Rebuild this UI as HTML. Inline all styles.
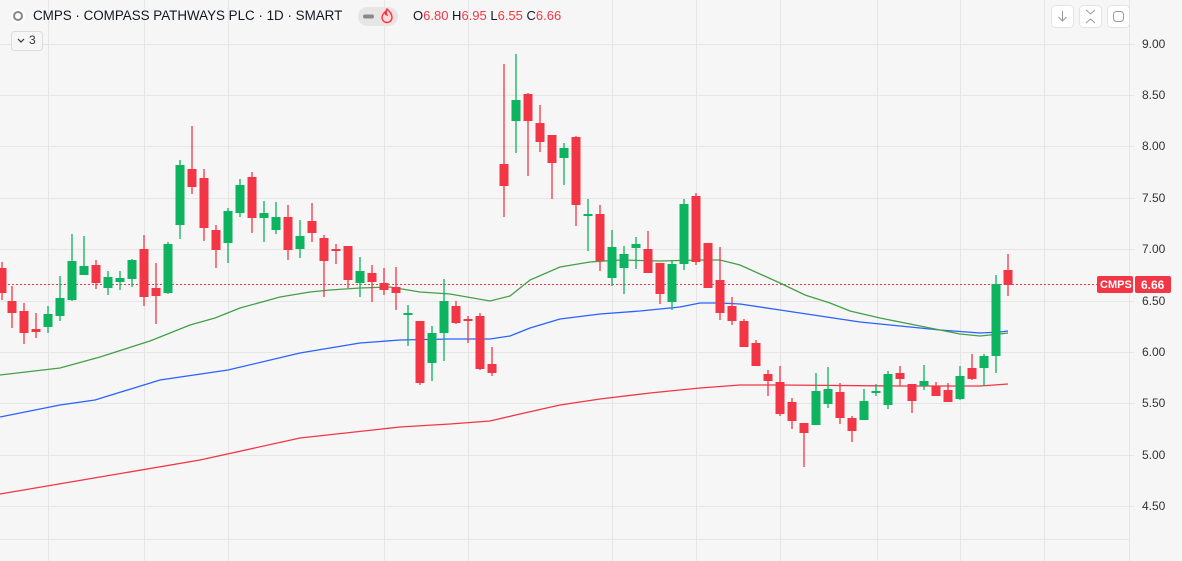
<!DOCTYPE html>
<html><head><meta charset="utf-8"><style>
html,body{margin:0;padding:0;background:#f6f6f6;width:1182px;height:561px;overflow:hidden;font-family:"Liberation Sans",sans-serif}
.t{position:absolute;white-space:nowrap}
</style></head><body>
<svg width="1182" height="561" style="position:absolute;left:0;top:0">
<rect width="1182" height="561" fill="#f6f6f6"/>
<g stroke="#e6e6e6" stroke-width="1">
<path d="M48.5 0V561M144.5 0V561M228.5 0V561M384.5 0V561M468.5 0V561M612.5 0V561M696.5 0V561M780.5 0V561M877.5 0V561M960.5 0V561M1044.5 0V561"/>
<path d="M0 44.5H1134M0 95.5H1134M0 146.5H1134M0 198.5H1134M0 249.5H1134M0 301.5H1134M0 352.5H1134M0 403.5H1134M0 455.5H1134M0 506.5H1134M0 539.5H1129"/>
<path d="M1129.5 0V561"/>
</g>
<path d="M0 284.5H1097" stroke="#f23645" stroke-width="1" stroke-dasharray="2,2"/>
<g fill="none" stroke-width="1.3">
<polyline stroke="#f23645" points="0,494 100,477 200,460 300,438 400,427 450,424 490,421 520,414 560,405 600,399 650,393 700,388 740,385 780,385 900,386 980,386 1008,384"/>
<polyline stroke="#2962ff" points="0,417 60,405 95,400 160,380 228,370 300,353 360,343 400,340 450,339 490,339 510,336 530,328 560,319 600,314 640,311 680,307 700,303 720,303 740,304 780,310 820,316 860,322 900,326 940,330 980,333 1000,332 1008,331"/>
<polyline stroke="#43a047" points="0,375 60,368 100,357 150,341 170,333 190,325 215,318 240,308 280,297 310,292 330,290 360,288 390,287 420,292 450,294 490,301 510,296 530,280 560,267 590,262 620,260 660,261 700,260 720,260 740,265 780,283 805,295 830,303 850,311 880,318 910,324 940,330 960,334 980,336 1000,334 1008,333"/>
</g>
<g fill="#f23645" stroke="#f23645" stroke-width="1.3">
<path d="M2 262V300M12 286V328M24 303V344M36 313V338M96 260V289M144 235V306M156 263V324M192 126V194M204 169V241M216 225V268M252 172V233M288 205V260M312 203V242M324 235V297M336 244V264M348 246V288M372 265V302M384 268V295M396 267V310M420 321V385M456 301V324M468 316V343M480 313V370M492 347V376M504 64V217M528 93V176M540 105V152M552 135V199M576 136V226M600 205V271M648 231V273M660 263V304M696 193V265M708 243V288M720 247V320M732 297V325M744 319V347M756 340V366M768 370V396M780 366V416M792 398V429M804 423V467M840 383V424M852 416V442M900 366V386M912 384V413M936 382V396M948 383V402M972 354V380M1008 254V296"/>
</g>
<g fill="#f23645">
<rect x="-2.5" y="268" width="9" height="25"/><rect x="7.5" y="301" width="9" height="12"/><rect x="19.5" y="311" width="9" height="22"/><rect x="31.5" y="329" width="9" height="3"/><rect x="91.5" y="265" width="9" height="18"/><rect x="139.5" y="249" width="9" height="48"/><rect x="151.5" y="288" width="9" height="8"/><rect x="187.5" y="169" width="9" height="18"/><rect x="199.5" y="178" width="9" height="50"/><rect x="211.5" y="230" width="9" height="20"/><rect x="247.5" y="177" width="9" height="41"/><rect x="283.5" y="217" width="9" height="33"/><rect x="307.5" y="221" width="9" height="12"/><rect x="319.5" y="238" width="9" height="23"/><rect x="331.5" y="249" width="9" height="2"/><rect x="343.5" y="246" width="9" height="34"/><rect x="367.5" y="273" width="9" height="9"/><rect x="379.5" y="283" width="9" height="7"/><rect x="391.5" y="287" width="9" height="6"/><rect x="415.5" y="321" width="9" height="62"/><rect x="451.5" y="306" width="9" height="17"/><rect x="463.5" y="319" width="9" height="2"/><rect x="475.5" y="316" width="9" height="53"/><rect x="487.5" y="364" width="9" height="9"/><rect x="499.5" y="164" width="9" height="22"/><rect x="523.5" y="94" width="9" height="27"/><rect x="535.5" y="123" width="9" height="19"/><rect x="547.5" y="135" width="9" height="28"/><rect x="571.5" y="137" width="9" height="68"/><rect x="595.5" y="214" width="9" height="47"/><rect x="643.5" y="249" width="9" height="24"/><rect x="655.5" y="263" width="9" height="31"/><rect x="691.5" y="196" width="9" height="66"/><rect x="703.5" y="243" width="9" height="45"/><rect x="715.5" y="280" width="9" height="33"/><rect x="727.5" y="306" width="9" height="15"/><rect x="739.5" y="321" width="9" height="26"/><rect x="751.5" y="343" width="9" height="23"/><rect x="763.5" y="374" width="9" height="7"/><rect x="775.5" y="382" width="9" height="32"/><rect x="787.5" y="402" width="9" height="19"/><rect x="799.5" y="423" width="9" height="10"/><rect x="835.5" y="392" width="9" height="26"/><rect x="847.5" y="418" width="9" height="13"/><rect x="895.5" y="373" width="9" height="6"/><rect x="907.5" y="384" width="9" height="17"/><rect x="931.5" y="386" width="9" height="10"/><rect x="943.5" y="390" width="9" height="12"/><rect x="967.5" y="368" width="9" height="11"/><rect x="1003.5" y="270" width="9" height="15"/>
</g>
<g stroke="#0db35e" stroke-width="1.3">
<path d="M48 306V333M60 276V321M72 234V301M84 236V275M108 271V295M120 271V290M132 259V287M168 242V294M180 160V239M228 208V263M240 179V217M264 201V242M276 202V234M300 220V258M360 257V297M408 305V346M432 326V381M444 279V361M516 54V153M564 143V185M588 199V251M612 230V286M624 246V294M636 237V269M672 260V310M684 199V270M816 373V425M828 367V408M864 389V420M876 384V396M888 371V409M924 365V390M960 366V400M984 354V386M996 275V373"/>
</g>
<g fill="#0db35e">
<rect x="43.5" y="314" width="9" height="13"/><rect x="55.5" y="298" width="9" height="18"/><rect x="67.5" y="261" width="9" height="39"/><rect x="79.5" y="266" width="9" height="9"/><rect x="103.5" y="277" width="9" height="11"/><rect x="115.5" y="278" width="9" height="4"/><rect x="127.5" y="260" width="9" height="19"/><rect x="163.5" y="244" width="9" height="49"/><rect x="175.5" y="165" width="9" height="60"/><rect x="223.5" y="211" width="9" height="32"/><rect x="235.5" y="185" width="9" height="28"/><rect x="259.5" y="213" width="9" height="5"/><rect x="271.5" y="217" width="9" height="13"/><rect x="295.5" y="236" width="9" height="13"/><rect x="355.5" y="271" width="9" height="12"/><rect x="403.5" y="313" width="9" height="2"/><rect x="427.5" y="333" width="9" height="30"/><rect x="439.5" y="301" width="9" height="32"/><rect x="511.5" y="100" width="9" height="21"/><rect x="559.5" y="148" width="9" height="10"/><rect x="583.5" y="214" width="9" height="2"/><rect x="607.5" y="247" width="9" height="31"/><rect x="619.5" y="254" width="9" height="14"/><rect x="631.5" y="244" width="9" height="4"/><rect x="667.5" y="264" width="9" height="38"/><rect x="679.5" y="204" width="9" height="60"/><rect x="811.5" y="391" width="9" height="34"/><rect x="823.5" y="389" width="9" height="15"/><rect x="859.5" y="401" width="9" height="19"/><rect x="871.5" y="391" width="9" height="2"/><rect x="883.5" y="374" width="9" height="31"/><rect x="919.5" y="381" width="9" height="5"/><rect x="955.5" y="376" width="9" height="23"/><rect x="979.5" y="356" width="9" height="12"/><rect x="991.5" y="284" width="9" height="72"/>
</g>
<rect x="1097" y="276" width="36" height="17" rx="2" fill="#f23645"/>
<rect x="1135" y="276" width="36" height="17" rx="2" fill="#f23645"/>
<g fill="#fff" stroke="#e4e4e4"><rect x="1051.5" y="5.5" width="22" height="22" rx="4"/><rect x="1079.5" y="5.5" width="22" height="22" rx="4"/><rect x="1107.5" y="5.5" width="22" height="22" rx="4" /></g>
<g fill="none" stroke="#9a9a9a" stroke-width="1"><path d="M1062.5 11V21M1058.5 17L1062.5 21L1066.5 17"/><path d="M1086 10L1090.5 14L1095 10M1086 23L1090.5 19L1095 23"/><rect x="1113.5" y="11.5" width="10" height="10" rx="3"/></g>
<rect x="11.5" y="31.5" width="31" height="19" rx="3" fill="#f6f6f6" stroke="#dcdcdc"/>
<path d="M18 39L21 42L24 39" fill="none" stroke="#333" stroke-width="1.2"/>
<circle cx="18" cy="16" r="7" fill="#fff"/><circle cx="18" cy="16" r="4" fill="none" stroke="#888" stroke-width="2"/>
<rect x="358" y="7" width="40" height="19" rx="9.5" fill="#e6e6e6"/>
<rect x="363" y="14.5" width="11" height="4" rx="2" fill="#888"/>
<circle cx="387" cy="16.5" r="8" fill="#fcdcdc"/>
<path d="M387 9C390 12 392 14 392 17.5A5 5 0 0 1 382 17.5C382 15 384 13 385 12C385 14 386 15 387 15C386 13 386 11 387 9Z" fill="none" stroke="#f23645" stroke-width="1.4"/>
</svg>
<div class="t" style="left:33px;top:8px;font-size:13.4px;color:#131722">CMPS · COMPASS PATHWAYS PLC · 1D · SMART</div>
<div class="t" style="left:413px;top:8px;font-size:13px;color:#131722">O<span style="color:#f23645">6.80</span> H<span style="color:#f23645">6.95</span> L<span style="color:#f23645">6.55</span> C<span style="color:#f23645">6.66</span></div>
<div class="t" style="left:29px;top:33px;font-size:12px;color:#333">3</div>
<div class="t" style="left:1142px;top:37px;font-size:12px;color:#333;line-height:14px">9.00</div>
<div class="t" style="left:1142px;top:88px;font-size:12px;color:#333;line-height:14px">8.50</div>
<div class="t" style="left:1142px;top:139px;font-size:12px;color:#333;line-height:14px">8.00</div>
<div class="t" style="left:1142px;top:191px;font-size:12px;color:#333;line-height:14px">7.50</div>
<div class="t" style="left:1142px;top:242px;font-size:12px;color:#333;line-height:14px">7.00</div>
<div class="t" style="left:1142px;top:294px;font-size:12px;color:#333;line-height:14px">6.50</div>
<div class="t" style="left:1142px;top:345px;font-size:12px;color:#333;line-height:14px">6.00</div>
<div class="t" style="left:1142px;top:396px;font-size:12px;color:#333;line-height:14px">5.50</div>
<div class="t" style="left:1142px;top:448px;font-size:12px;color:#333;line-height:14px">5.00</div>
<div class="t" style="left:1142px;top:499px;font-size:12px;color:#333;line-height:14px">4.50</div>
<div class="t" style="left:1100px;top:278px;font-size:11px;color:#fff;font-weight:bold;line-height:14px">CMPS</div>
<div class="t" style="left:1141px;top:278px;font-size:12px;color:#fff;font-weight:bold;line-height:14px">6.66</div>
</body></html>
